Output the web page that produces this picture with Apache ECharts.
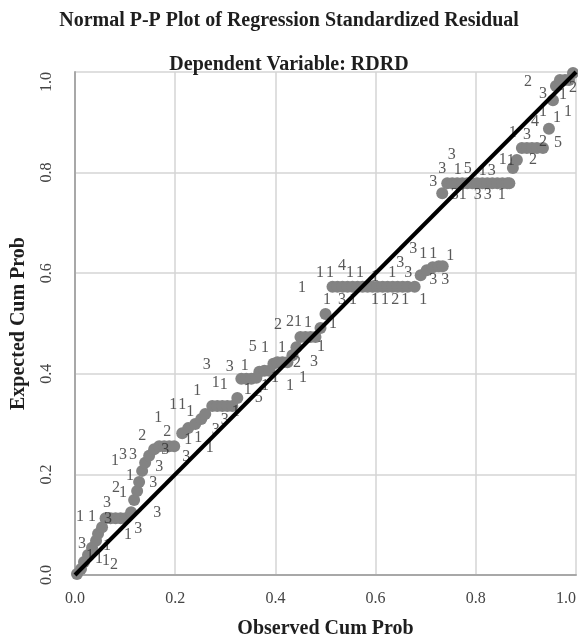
<!DOCTYPE html>
<html><head><meta charset="utf-8">
<script src="https://cdn.jsdelivr.net/npm/echarts@6/dist/echarts.min.js"></script>
<style>html,body{margin:0;padding:0;background:#fff}#c{width:578px;height:637px}</style>
</head><body><div id="c"></div>
<script>
const titleText = 'Normal P-P Plot of Regression Standardized Residual';
const subtitleText = 'Dependent Variable: RDRD';
const xName = 'Observed Cum Prob';
const yName = 'Expected Cum Prob';
const axisMin = 0, axisMax = 1, axisStep = 0.2;

// Observed / expected cumulative probabilities of the plotted cases
const obsCum = [
  0.004,0.012,0.018,0.026,0.034,0.042,0.046,0.054,
  0.061,0.071,0.081,0.091,0.101,
  0.112,0.118,0.124,0.128,0.134,0.140,0.148,0.158,
  0.168,0.178,0.188,0.198,
  0.214,0.226,0.240,0.252,0.260,
  0.274,0.284,0.294,0.304,0.314,
  0.324,0.332,0.342,0.352,0.362,0.368,0.378,0.388,0.396,0.404,0.414,0.424,
  0.434,0.442,0.450,0.460,0.470,0.480,0.490,0.500,
  0.514,0.524,0.534,0.544,0.554,0.564,0.574,0.584,0.594,0.604,0.614,0.624,0.634,0.644,0.654,0.664,0.678,
  0.690,0.702,0.714,0.726,0.734,
  0.733,0.743,0.753,0.763,0.773,0.783,0.793,0.803,0.813,0.823,0.833,0.843,0.853,0.863,0.867,
  0.874,0.882,
  0.892,0.902,0.912,0.922,0.934,
  0.946,0.954,0.960,0.968,0.978,0.986,0.994
];
const expCum = [
  0.002,0.012,0.026,0.040,0.054,0.068,0.082,0.095,
  0.113,0.113,0.113,0.113,0.113,
  0.125,0.149,0.167,0.185,0.207,0.223,0.237,0.250,
  0.256,0.256,0.256,0.256,
  0.282,0.292,0.300,0.310,0.320,
  0.336,0.336,0.336,0.336,0.336,
  0.352,0.390,0.390,0.390,0.392,0.404,0.406,0.406,0.420,0.423,0.423,0.423,
  0.437,0.453,0.473,0.473,0.473,0.473,0.491,0.519,
  0.573,0.573,0.573,0.573,0.573,0.573,0.573,0.573,0.573,0.573,0.573,0.573,0.573,0.573,0.573,0.573,0.573,
  0.596,0.606,0.612,0.614,0.614,
  0.759,0.779,0.779,0.779,0.779,0.779,0.779,0.779,0.779,0.779,0.779,0.779,0.779,0.779,0.779,
  0.809,0.825,
  0.849,0.849,0.849,0.849,0.849,
  0.887,0.944,0.972,0.984,0.984,0.984,0.998
];

// Case-count labels written next to the points
const labelObs = [
  0.030,0.048,0.062,0.078,0.014,0.064,0.106,0.126,0.010,0.034,0.066,0.164,0.064,0.082,0.096,0.156,0.110,0.168,
  0.080,0.096,0.116,0.180,0.222,0.134,0.184,0.226,0.246,0.269,0.281,0.299,0.321,0.166,0.196,0.214,0.230,0.244,
  0.263,0.281,0.297,0.309,0.339,0.345,0.367,0.379,0.399,0.429,0.455,0.443,0.477,0.355,0.379,0.413,0.491,
  0.405,0.429,0.445,0.465,0.515,0.453,0.503,0.533,0.555,0.599,0.619,0.639,0.659,0.695,
  0.489,0.509,0.533,0.549,0.569,0.599,0.633,0.649,0.665,0.715,0.739,0.675,0.695,0.715,0.749,
  0.752,0.733,0.764,0.784,0.814,0.832,0.715,0.758,0.774,0.804,0.824,0.852,0.854,0.870,0.914,
  0.874,0.902,0.934,0.964,0.918,0.934,0.962,0.984,0.934,0.974,0.994,0.904
];
const labelExp = [
  0.038,0.032,0.028,0.020,0.062,0.058,0.080,0.091,0.115,0.115,0.111,0.123,0.143,0.173,0.163,0.183,0.197,0.215,
  0.227,0.239,0.239,0.249,0.235,0.276,0.284,0.268,0.272,0.252,0.288,0.308,0.324,0.312,0.338,0.338,0.324,0.366,
  0.417,0.382,0.378,0.414,0.416,0.368,0.352,0.376,0.392,0.376,0.392,0.421,0.423,0.453,0.451,0.451,0.453,
  0.497,0.503,0.503,0.501,0.499,0.571,0.547,0.547,0.547,0.547,0.547,0.547,0.547,0.547,
  0.600,0.600,0.614,0.600,0.600,0.592,0.600,0.620,0.600,0.586,0.586,0.648,0.638,0.638,0.634,
  0.835,0.807,0.805,0.807,0.803,0.803,0.781,0.755,0.755,0.755,0.755,0.755,0.825,0.823,0.825,
  0.879,0.875,0.861,0.859,0.901,0.920,0.909,0.920,0.956,0.954,0.968,0.980
];
const labelText = [
  '1','1','1','2','3','1','1','3','1','1','3','3','3','2','1','3','1','3',
  '1','3','3','3','3','2','2','1','1','1','3','3','1','1','1','1','1','1',
  '3','1','1','3','1','1','5','1','1','1','1','2','3','5','1','1','1',
  '2','2','1','1','1','1','1','3','1','1','1','2','1','1',
  '1','1','4','1','1','1','1','3','3','3','3','3','1','1','1',
  '3','3','1','5','1','3','3','3','1','3','3','1','1','1','2',
  '1','3','2','5','4','1','1','1','3','1','2','2'
];

const refLineX = [0, 1];
const refLineY = [0, 1];

const serif = 'Liberation Serif';
const chart = echarts.init(document.getElementById('c'));
chart.setOption({
  animation: false,
  backgroundColor: '#ffffff',
  title: [
    { text: titleText, left: 'center', top: 6,
      textStyle: { fontFamily: serif, fontWeight: 'bold', fontSize: 20, color: '#1e1e1e' } },
    { text: subtitleText, left: 'center', top: 50,
      textStyle: { fontFamily: serif, fontWeight: 'bold', fontSize: 20, color: '#1e1e1e' } }
  ],
  grid: { left: 75, right: 2, top: 72, bottom: 62, outerBoundsMode: 'none', containLabel: false },
  xAxis: {
    type: 'value', min: axisMin, max: axisMax, interval: axisStep,
    name: xName, nameLocation: 'middle', nameGap: 44,
    nameTextStyle: { fontFamily: serif, fontWeight: 'bold', fontSize: 20, color: '#1e1e1e' },
    axisLine: { show: true, lineStyle: { color: '#a8a8a8', width: 2 } },
    axisTick: { show: false },
    splitLine: { show: true, lineStyle: { color: '#d4d4d4', width: 1.5 } },
    axisLabel: { fontFamily: serif, fontSize: 16, color: '#444', margin: 16,
      formatter: v => v.toFixed(1), alignMaxLabel: 'right' }
  },
  yAxis: {
    type: 'value', min: axisMin, max: axisMax, interval: axisStep,
    name: yName, nameLocation: 'middle', nameGap: 46, nameRotate: 90,
    nameTextStyle: { fontFamily: serif, fontWeight: 'bold', fontSize: 20, color: '#1e1e1e' },
    axisLine: { show: true, lineStyle: { color: '#a8a8a8', width: 2 } },
    axisTick: { show: false },
    splitLine: { show: true, lineStyle: { color: '#d4d4d4', width: 1.5 } },
    axisLabel: { fontFamily: serif, fontSize: 16, color: '#444', margin: 20, rotate: 90,
      formatter: v => v.toFixed(1), alignMaxLabel: 'right' }
  },
  series: [
    {
      type: 'scatter', z: 2, silent: true,
      symbol: 'circle', symbolSize: 12,
      itemStyle: { color: '#838383', opacity: 1 },
      data: obsCum.map((x, i) => [x, expCum[i]])
    },
    {
      type: 'scatter', z: 3, silent: true,
      symbolSize: 1, itemStyle: { color: 'rgba(0,0,0,0)' },
      label: { show: true, position: 'inside', formatter: p => p.value[2],
        fontFamily: serif, fontSize: 16, color: '#2e2e2e' },
      data: labelObs.map((x, i) => [x, labelExp[i], labelText[i]])
    },
    {
      type: 'line', z: 4, silent: true, symbol: 'none',
      lineStyle: { color: '#000', width: 4 },
      data: refLineX.map((x, i) => [x, refLineY[i]])
    }
  ]
});
</script>
</body></html>
